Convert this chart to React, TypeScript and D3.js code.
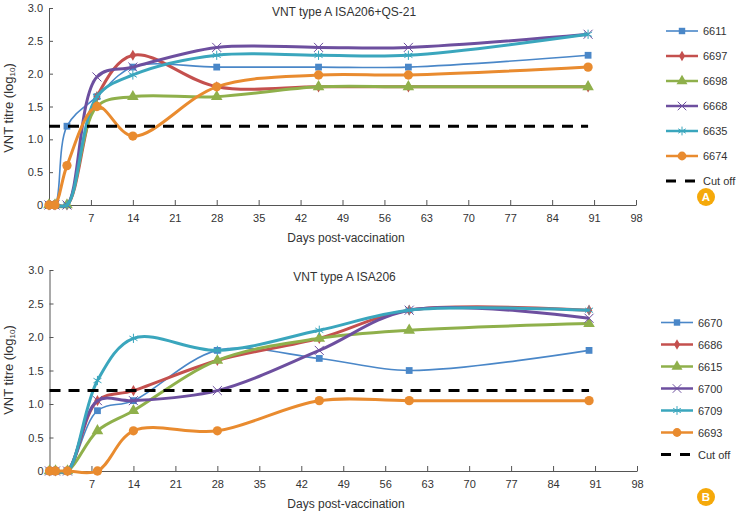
import React, { useRef, useEffect } from "react";
import * as d3 from "d3";

const days = [0, 1, 3, 8, 14, 28, 45, 60, 90];
const xTicks = [7, 14, 21, 28, 35, 42, 49, 56, 63, 70, 77, 84, 91, 98];
const yTicks = [0, 0.5, 1, 1.5, 2, 2.5, 3];
const cutOff = 1.2;

const namesA = ["6611", "6697", "6698", "6668", "6635", "6674"];
const s6611 = [0, 0, 1.2, 1.65, 2.1, 2.1, 2.1, 2.1, 2.28];
const s6697 = [0, 0, 0, 1.65, 2.28, 1.8, 1.8, 1.8, 1.8];
const s6698 = [0, 0, 0, 1.5, 1.65, 1.65, 1.8, 1.8, 1.8];
const s6668 = [0, 0, 0, 1.95, 2.1, 2.4, 2.4, 2.4, 2.6];
const s6635 = [0, 0, 0, 1.65, 1.98, 2.28, 2.28, 2.28, 2.6];
const s6674 = [0, 0, 0.6, 1.5, 1.05, 1.8, 1.98, 1.98, 2.1];

const namesB = ["6670", "6686", "6615", "6700", "6709", "6693"];
const s6670 = [0, 0, 0, 0.9, 1.05, 1.8, 1.68, 1.5, 1.8];
const s6686 = [0, 0, 0, 1.05, 1.2, 1.65, 1.98, 2.4, 2.4];
const s6615 = [0, 0, 0, 0.6, 0.9, 1.65, 1.98, 2.1, 2.2];
const s6700 = [0, 0, 0, 1.05, 1.05, 1.2, 1.8, 2.4, 2.28];
const s6709 = [0, 0, 0, 1.35, 1.98, 1.8, 2.1, 2.4, 2.4];
const s6693 = [0, 0, 0, 0, 0.6, 0.6, 1.05, 1.05, 1.05];

const colors = ["#4a87c8", "#c4504e", "#8fb04b", "#6d4f9f", "#3aa6bd", "#e98b2f"];
const widths = [1.6, 3, 3, 3, 3, 3];
const symbols = [d3.symbolSquare, d3.symbolDiamond, d3.symbolTriangle, d3.symbolTimes, d3.symbolAsterisk, d3.symbolCircle];
const symbolSizes = [46, 36, 58, 55, 60, 68];
const textColor = "#333";
const font = "'Liberation Sans', Arial, sans-serif";

function drawPanel(svg, p) {
    const x = d3.scaleLinear().domain([0, 98]).range([p.left, p.right]);
    const y = d3.scaleLinear().domain([0, 3]).range([p.bottom, p.top]);
    const g = svg.append("g");

    // Axes
    const xAxis = g.append("g")
        .attr("transform", `translate(0,${p.bottom})`)
        .call(d3.axisBottom(x).tickValues(xTicks).tickSizeInner(-5).tickSizeOuter(0).tickPadding(9));
    const yAxis = g.append("g")
        .attr("transform", `translate(${p.left},0)`)
        .call(d3.axisLeft(y).tickValues(yTicks).tickSizeInner(-4).tickSizeOuter(0).tickPadding(6)
            .tickFormat((d) => (d === 0 ? "0" : d3.format(".1f")(d))));
    [xAxis, yAxis].forEach((a) => {
        a.selectAll("path,line").attr("stroke", "#555").attr("stroke-width", 1);
        a.selectAll("text").attr("fill", textColor).attr("font-size", 11).attr("font-family", font);
    });

    // Series
    const myLine = d3.line()
        .x((d) => x(d.day))
        .y((d) => y(d.value))
        .curve(d3.curveCatmullRom.alpha(0.5));

    p.series.forEach((values, i) => {
        const pts = values.map((value, j) => ({ day: days[j], value }));
        g.append("path").datum(pts)
            .attr("d", myLine).attr("fill", "none")
            .attr("stroke", colors[i]).attr("stroke-width", widths[i]);
        g.selectAll(null).data(pts).enter().append("path")
            .attr("d", d3.symbol(symbols[i], symbolSizes[i]))
            .attr("transform", (d) => `translate(${x(d.day)},${y(d.value)})`)
            .attr("fill", i === 3 || i === 4 ? "none" : colors[i])
            .attr("stroke", colors[i])
            .attr("stroke-width", i === 3 || i === 4 ? 1 : 0);
    });

    // Cut off
    g.append("line")
        .attr("x1", x(0)).attr("x2", x(90))
        .attr("y1", y(cutOff)).attr("y2", y(cutOff))
        .attr("stroke", "#000").attr("stroke-width", 3)
        .attr("stroke-dasharray", "11,8");

    // Titles
    g.append("text").attr("x", p.titleX).attr("y", p.titleY)
        .attr("text-anchor", "middle").attr("fill", textColor)
        .attr("font-size", 12).attr("font-family", font).text(p.title);
    g.append("text").attr("x", 346).attr("y", p.bottom + 37)
        .attr("text-anchor", "middle").attr("fill", textColor)
        .attr("font-size", 12).attr("font-family", font).text("Days post-vaccination");

    const yLabel = g.append("text")
        .attr("transform", `translate(13,${p.labelY}) rotate(-90)`)
        .attr("text-anchor", "middle").attr("fill", textColor)
        .attr("font-size", 13).attr("font-family", font);
    yLabel.append("tspan").text("VNT titre (log");
    yLabel.append("tspan").attr("font-size", 8).attr("dy", 2).text("10");
    yLabel.append("tspan").attr("dy", -2).text(")");

    // Legend
    const legendY = d3.scalePoint().domain([...p.names, "Cut off"]).range([p.legendTop, p.legendBottom]);
    p.names.forEach((name, i) => {
        const row = g.append("g").attr("transform", `translate(${p.legendX},${legendY(name)})`);
        row.append("line").attr("x1", 0).attr("x2", 32)
            .attr("stroke", colors[i]).attr("stroke-width", widths[i] === 3 ? 2.5 : 1.6);
        row.append("path").attr("d", d3.symbol(symbols[i], symbolSizes[i] * 0.9))
            .attr("transform", "translate(16,0)")
            .attr("fill", i === 3 || i === 4 ? "#fff" : colors[i])
            .attr("stroke", colors[i]).attr("stroke-width", i === 3 || i === 4 ? 1 : 0);
        row.append("text").attr("x", 37).attr("y", 4)
            .attr("fill", textColor).attr("font-size", 11).attr("font-family", font).text(name);
    });
    const cut = g.append("g").attr("transform", `translate(${p.legendX},${legendY("Cut off")})`);
    cut.append("line").attr("x1", 0).attr("x2", 30)
        .attr("stroke", "#000").attr("stroke-width", 3).attr("stroke-dasharray", "10,9");
    cut.append("text").attr("x", 37).attr("y", 4)
        .attr("fill", textColor).attr("font-size", 11).attr("font-family", font).text("Cut off");

    // Panel badge
    g.append("circle").attr("cx", 706).attr("cy", p.badgeY).attr("r", 9).attr("fill", "#f5a90a");
    g.append("text").attr("x", 706).attr("y", p.badgeY + 4).attr("text-anchor", "middle")
        .attr("fill", "#fff").attr("font-weight", "bold")
        .attr("font-size", 11.5).attr("font-family", font).text(p.badge);
}

export default function App() {
    const svgRef = useRef();

    useEffect(() => {
        const svg = d3.select(svgRef.current);
        svg.selectAll("*").remove();
        drawPanel(svg, {
            left: 49, right: 636, top: 8, bottom: 205,
            series: [s6611, s6697, s6698, s6668, s6635, s6674], names: namesA,
            title: "VNT type A ISA206+QS-21", titleX: 344, titleY: 16, labelY: 108,
            legendX: 666, legendTop: 31, legendBottom: 181, badge: "A", badgeY: 197,
        });
        drawPanel(svg, {
            left: 49.5, right: 637, top: 270, bottom: 471,
            series: [s6670, s6686, s6615, s6700, s6709, s6693], names: namesB,
            title: "VNT type A ISA206", titleX: 344.5, titleY: 281, labelY: 370,
            legendX: 661, legendTop: 322.5, legendBottom: 454.5, badge: "B", badgeY: 497,
        });
    }, []);

    return (
        <svg ref={svgRef} width={738} height={513}
            style={{ position: "absolute", left: 0, top: 0, background: "#fff" }} />
    );
}
